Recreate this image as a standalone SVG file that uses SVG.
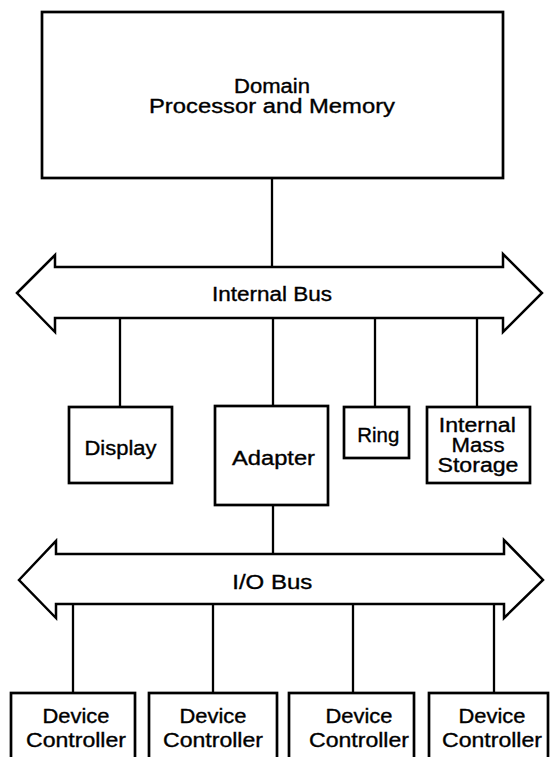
<svg xmlns="http://www.w3.org/2000/svg" width="551" height="757" viewBox="0 0 551 757">
<style>
.box{fill:#fff;stroke:#000;stroke-width:2.7}
.bus{fill:#fff;stroke:#000;stroke-width:2.5;stroke-linejoin:miter}
.ln{stroke:#000;stroke-width:2.3;fill:none}
text{font-family:"Liberation Sans",Arial,sans-serif;font-size:20px;fill:#000;stroke:#000;stroke-width:0.35;text-anchor:middle}
</style>
<rect width="551" height="757" fill="#fff"/>
<g id="connectors">
<line class="ln" x1="272" y1="178" x2="272" y2="267"/>
<line class="ln" x1="120" y1="318" x2="120" y2="407"/>
<line class="ln" x1="273" y1="318" x2="273" y2="406"/>
<line class="ln" x1="375" y1="318" x2="375" y2="407"/>
<line class="ln" x1="477" y1="318" x2="477" y2="407"/>
<line class="ln" x1="273" y1="505" x2="273" y2="554"/>
<line class="ln" x1="73" y1="604" x2="73" y2="693"/>
<line class="ln" x1="213" y1="604" x2="213" y2="693"/>
<line class="ln" x1="353" y1="604" x2="353" y2="693"/>
<line class="ln" x1="494" y1="604" x2="494" y2="693"/>
</g>
<g id="domain">
<rect class="box" x="42" y="12" width="461" height="166"/>
<text x="272" y="93" textLength="76" lengthAdjust="spacingAndGlyphs">Domain</text>
<text x="272" y="113" textLength="246" lengthAdjust="spacingAndGlyphs">Processor and Memory</text>
</g>
<g id="internal-bus">
<polygon class="bus" points="17,293 55,255 55,267 503,267 503,254 542,293 503,332 503,318 55,318 55,332"/>
<text x="272" y="301" textLength="120" lengthAdjust="spacingAndGlyphs">Internal Bus</text>
</g>
<g id="display">
<rect class="box" x="69" y="407" width="103" height="76"/>
<text x="120.5" y="455" textLength="72" lengthAdjust="spacingAndGlyphs">Display</text>
</g>
<g id="adapter">
<rect class="box" x="215" y="406" width="113" height="99"/>
<text x="273.5" y="465" textLength="83" lengthAdjust="spacingAndGlyphs">Adapter</text>
</g>
<g id="ring">
<rect class="box" x="344" y="407" width="65" height="51"/>
<text x="378.3" y="442" textLength="42" lengthAdjust="spacingAndGlyphs">Ring</text>
</g>
<g id="storage">
<rect class="box" x="427" y="407" width="103" height="76"/>
<text x="477.3" y="432" textLength="77" lengthAdjust="spacingAndGlyphs">Internal</text>
<text x="478" y="452" textLength="53" lengthAdjust="spacingAndGlyphs">Mass</text>
<text x="478" y="472" textLength="81" lengthAdjust="spacingAndGlyphs">Storage</text>
</g>
<g id="io-bus">
<polygon class="bus" points="19,580 56,541 56,554 504,554 504,540 543,580 504,618 504,604 56,604 56,618"/>
<text x="272.3" y="589" textLength="80" lengthAdjust="spacingAndGlyphs">I/O Bus</text>
</g>
<g id="dc1">
<rect class="box" x="11" y="693" width="124" height="80"/>
<text x="76" y="723" textLength="67" lengthAdjust="spacingAndGlyphs">Device</text>
<text x="76" y="747" textLength="100" lengthAdjust="spacingAndGlyphs">Controller</text>
</g>
<g id="dc2">
<rect class="box" x="149" y="693" width="128" height="80"/>
<text x="213" y="723" textLength="67" lengthAdjust="spacingAndGlyphs">Device</text>
<text x="213" y="747" textLength="100" lengthAdjust="spacingAndGlyphs">Controller</text>
</g>
<g id="dc3">
<rect class="box" x="289" y="693" width="125" height="80"/>
<text x="359" y="723" textLength="67" lengthAdjust="spacingAndGlyphs">Device</text>
<text x="359" y="747" textLength="100" lengthAdjust="spacingAndGlyphs">Controller</text>
</g>
<g id="dc4">
<rect class="box" x="429" y="693" width="119" height="80"/>
<text x="492" y="723" textLength="67" lengthAdjust="spacingAndGlyphs">Device</text>
<text x="492" y="747" textLength="100" lengthAdjust="spacingAndGlyphs">Controller</text>
</g>
</svg>
